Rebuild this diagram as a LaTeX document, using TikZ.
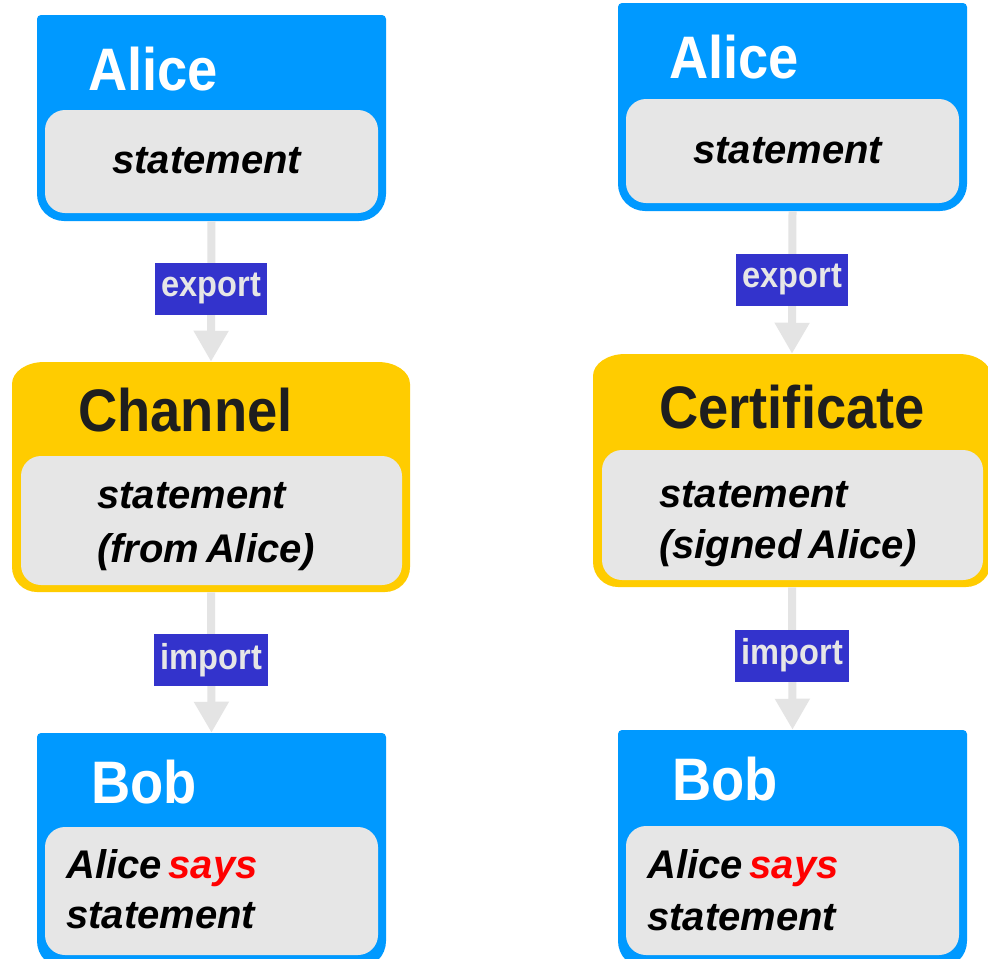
\documentclass[tikz,border=0pt]{standalone}
\usepackage{fontspec}
\setmainfont{Liberation Sans}[WordSpace=0.6]
\newfontfamily\titlefont{Liberation Sans}[FakeStretch=0.905]
\usetikzlibrary{arrows.meta,fit}

\definecolor{boxblue}{RGB}{0,153,255}
\definecolor{boxyellow}{RGB}{255,204,0}
\definecolor{innergray}{RGB}{230,230,230}
\definecolor{tagblue}{RGB}{51,51,204}
\definecolor{tagtext}{RGB}{230,230,230}
\definecolor{flowgray}{RGB}{228,228,228}
\definecolor{darktext}{RGB}{30,30,30}
\definecolor{saysred}{RGB}{255,0,0}

% principal panel: nearly square top corners, round bottom corners
\newcommand{\principal}[5]{%
  \node[fit={(#2,#3) (#4,#5)}, inner sep=0pt] (#1) {};
  \fill[boxblue] ({#2+4},#3) -- ({#4-4},#3) arc[start angle=270,end angle=360,radius=4]
    -- (#4,{#5-27}) arc[start angle=0,end angle=90,radius=27]
    -- ({#2+27},#5) arc[start angle=90,end angle=180,radius=27]
    -- (#2,{#3+4}) arc[start angle=180,end angle=270,radius=4] -- cycle;}
% transport panel: wide rounded top, round bottom corners
\newcommand{\transport}[5]{%
  \node[fit={(#2,#3) (#4,#5)}, inner sep=0pt] (#1) {};
  \fill[boxyellow] ({#2+32},#3) -- ({#4-32},#3) arc[start angle=270,end angle=360,x radius=32,y radius=22]
    -- (#4,{#5-25}) arc[start angle=0,end angle=90,radius=25]
    -- ({#2+25},#5) arc[start angle=90,end angle=180,radius=25]
    -- (#2,{#3+22}) arc[start angle=180,end angle=270,x radius=32,y radius=22] -- cycle;}
% grey content area inside a panel
\newcommand{\content}[4]{%
  \fill[innergray, rounded corners=15pt] (#1,#2) rectangle (#3,#4);}

\tikzset{
  ttl/.style={anchor=base west, inner sep=0pt, font=\titlefont\bfseries\fontsize{45}{54}\selectfont},
  body/.style={anchor=base west, inner sep=0pt, font=\bfseries\itshape\fontsize{30}{36}\selectfont, text=black},
  flow/.style={draw=flowgray, line width=6pt, -{Triangle[width=24.75pt,length=23.25pt]}},
  tag/.style={fill=tagblue, text=tagtext, inner xsep=4.6pt, inner ysep=0pt, minimum height=39pt,
    font=\titlefont\bfseries\fontsize{27}{30}\selectfont, pos=0.48},
}

\begin{document}
\begin{tikzpicture}[x=0.75pt,y=-0.75pt]
\useasboundingbox (0,0) rectangle (988,958);
\clip (0,0) rectangle (988,958);
\fill[white] (0,0) rectangle (988,958);

% ---------- left column: channel ----------
\principal{aliceL}{37}{15}{386}{221}
\content{45}{110}{378}{213}
\transport{chanL}{12}{362}{410}{592}
\content{21}{456}{402}{585}
\principal{bobL}{37}{733}{386}{968}
\content{45}{827}{378}{955}

% ---------- right column: certificate ----------
\principal{aliceR}{618}{3}{967}{211}
\content{626}{99}{959}{203}
\transport{certR}{593}{354}{991}{587}
\content{602}{450}{983}{580}
\principal{bobR}{618}{730}{967}{968}
\content{626}{826}{959}{955}

% connectors with their labels
\draw[flow] (aliceL.south) -- (chanL.north) node[tag] (expL) {export};
\draw[flow] (chanL.south) -- (bobL.north) node[tag] (impL) {import};
\draw[flow] (aliceR.south) -- (certR.north) node[tag] (expR) {export};
\draw[flow] (certR.south) -- (bobR.north) node[tag] (impR) {import};

% texts, left column
\node[ttl, text=white] (tAliceL) at (88,90) {Alice};
\node[body] (sAliceL) at (112,173) {statement};
\node[ttl, text=darktext] (tChanL) at (78,431) {Channel};
\node[body] (sChanL1) at (97,508) {statement};
\node[body] (sChanL2) at (97,562) {(from Alice)};
\node[ttl, text=white] (tBobL) at (91,803) {Bob};
\node[body] (sBobL1) at (66,878) {Alice \textcolor{saysred}{says}};
\node[body] (sBobL2) at (66,928) {statement};

% texts, right column
\node[ttl, text=white] (tAliceR) at (669,78) {Alice};
\node[body] (sAliceR) at (693,163) {statement};
\node[ttl, text=darktext] (tCertR) at (659,428) {Certificate};
\node[body] (sCertR1) at (659,507) {statement};
\node[body] (sCertR2) at (659,558) {(signed Alice)};
\node[ttl, text=white] (tBobR) at (672,800) {Bob};
\node[body] (sBobR1) at (647,878) {Alice \textcolor{saysred}{says}};
\node[body] (sBobR2) at (647,930) {statement};
\end{tikzpicture}
\end{document}
